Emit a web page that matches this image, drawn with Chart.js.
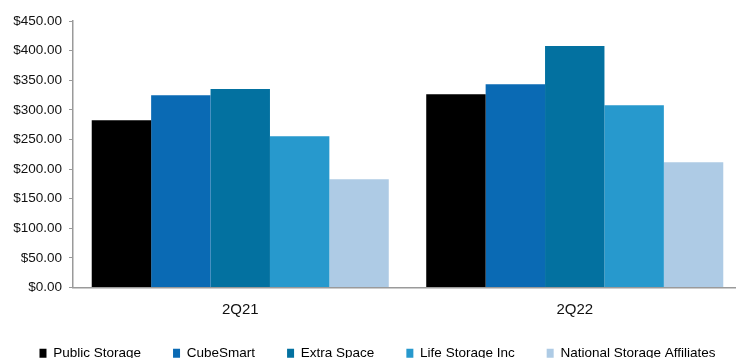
<!DOCTYPE html>
<html>
<head>
<meta charset="utf-8">
<script src="https://cdn.jsdelivr.net/npm/chart.js@4"></script>
<style>
  html, body { margin: 0; padding: 0; background: #fff; }
  #wrap { width: 736px; height: 358px; overflow: hidden; position: relative; }
  #box { width: 742px; height: 387px; position: absolute; left: 0; top: 0; }
</style>
</head>
<body>
<div id="wrap"><div id="box"><canvas id="chart"></canvas></div></div>
<script>
const quarters = ['2Q21', '2Q22'];
const companies = ['Public Storage', 'CubeSmart', 'Extra Space', 'Life Storage Inc', 'National Storage Affiliates'];
const publicStorage = [282.5, 326.5];
const cubeSmart = [324.8, 343.4];
const extraSpace = [335.0, 407.7];
const lifeStorage = [255.5, 307.9];
const nationalStorage = [182.7, 211.5];
const yTicks = [0, 50, 100, 150, 200, 250, 300, 350, 400, 450];

const colors = ['#000000', '#0a6ab4', '#0371a0', '#2799cd', '#aecbe5'];
const series = [publicStorage, cubeSmart, extraSpace, lifeStorage, nationalStorage];

const font = "'Liberation Sans', Arial, sans-serif";

// nudge the legend up a bit and to the right, like the original
const legendNudge = {
    id: 'legendNudge',
    afterLayout(chart) {
        const lg = chart.legend;
        lg.top -= 17; lg.bottom -= 17;
        lg.left += 6; lg.right += 6;
    }
};

new Chart(document.getElementById('chart'), {
    type: 'bar',
    data: {
        labels: quarters,
        datasets: series.map((vals, i) => ({
            label: companies[i],
            data: vals,
            backgroundColor: colors[i],
            borderWidth: 0,
            categoryPercentage: 0.888,
            barPercentage: 1.0
        }))
    },
    options: {
        responsive: true,
        maintainAspectRatio: false,
        animation: false,
        layout: { padding: { top: 21, right: 0, left: 1, bottom: 0 } },
        plugins: {
            legend: {
                position: 'bottom',
                labels: {
                    boxWidth: 7,
                    boxHeight: 9,
                    padding: 32,
                    color: '#000',
                    font: { family: font, size: 13.5 }
                }
            },
            tooltip: { enabled: false }
        },
        scales: {
            x: {
                grid: { display: false, drawTicks: false },
                border: { display: true, color: '#9a9a9a', width: 1.5 },
                ticks: { color: '#111', padding: 13, font: { family: font, size: 15 } }
            },
            y: {
                min: 0,
                max: 450,
                afterBuildTicks: axis => { axis.ticks = yTicks.map(v => ({ value: v })); },
                afterFit: axis => { axis.width = 72; },
                grid: { drawOnChartArea: false, tickLength: 4, color: '#9a9a9a' },
                border: { display: true, color: '#9a9a9a', width: 1.5 },
                ticks: {
                    color: '#111',
                    padding: 7,
                    font: { family: font, size: 13.5 },
                    callback: v => '$' + Number(v).toFixed(2)
                }
            }
        }
    },
    plugins: [legendNudge]
});
</script>
</body>
</html>
